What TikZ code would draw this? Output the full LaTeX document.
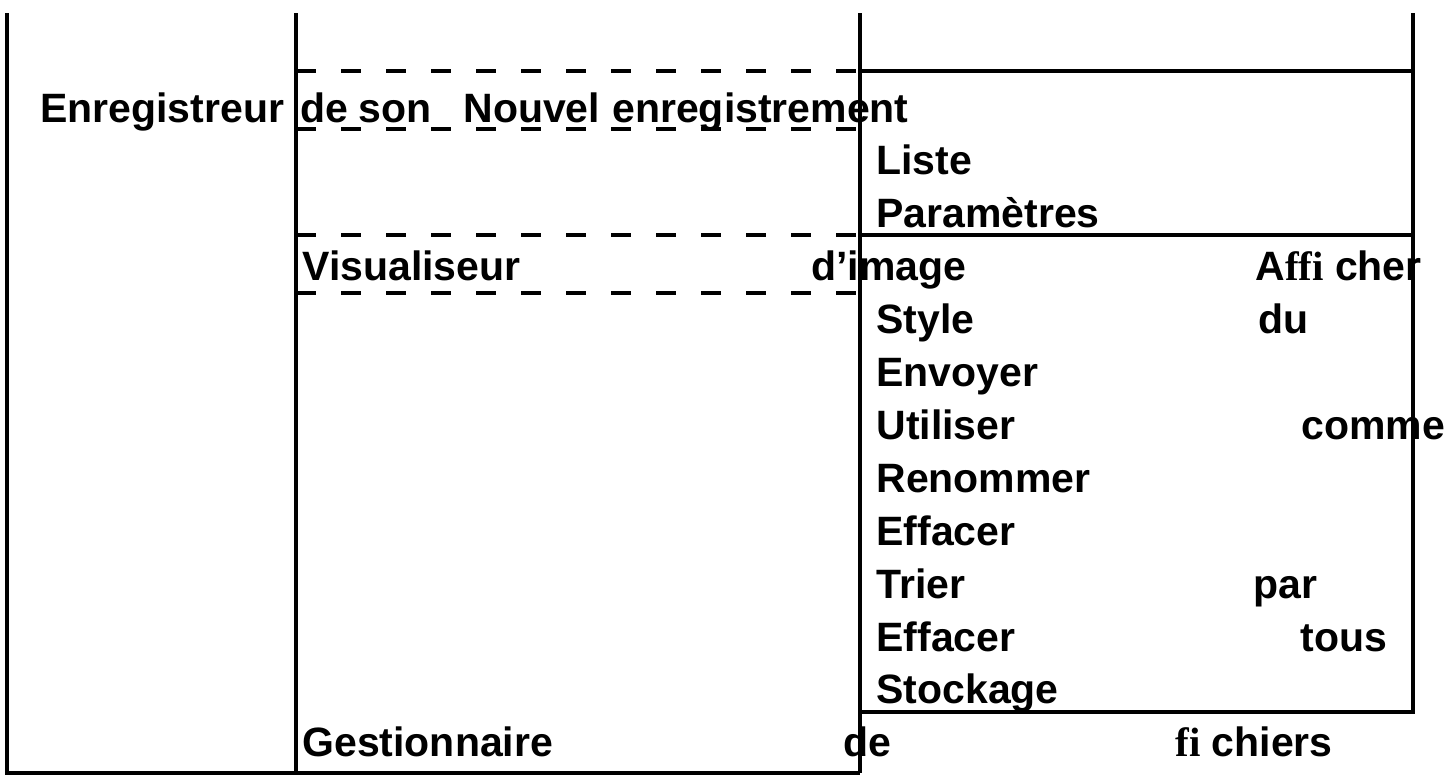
\documentclass[tikz,border=0pt]{standalone}
\usepackage{fontspec}
\setmainfont{Liberation Sans}
\newfontfamily\ligfont{Liberation Serif}
\begin{document}
\begin{tikzpicture}[x=0.5pt,y=-0.5pt,
  lbl/.style={anchor=base west, inner sep=0pt, font=\fontsize{20.5}{24}\selectfont\bfseries},
  rule/.style={line width=2pt},
  dashrule/.style={line width=2pt, dash pattern=on 10pt off 12.5pt}]
\fill[white] (0,0) rectangle (1451,782);
\useasboundingbox (0,0) rectangle (1451,782);
% frame coordinates
\coordinate (aT) at (7,13);   \coordinate (aB) at (7,773);
\coordinate (bT) at (296,13); \coordinate (bB) at (296,773);
\coordinate (cT) at (860,13); \coordinate (cB) at (860,773);
\coordinate (dT) at (1413,13); \coordinate (dB) at (1413,712);
\coordinate (cBox) at (860,712);
\coordinate (c1) at (860,71);  \coordinate (d1) at (1413,71);
\coordinate (c2) at (860,235); \coordinate (d2) at (1413,235);
% solid lines
\draw[rule] (aT) -- (aB) -- (cB);
\draw[rule] (bT) -- (bB);
\draw[rule] (cT) -- (cB);
\draw[rule] (dT) -- (dB) -- (cBox);
\draw[rule] (c1) -- (d1);
\draw[rule] (c2) -- (d2);
% dashed lines
\draw[dashrule] (296,71) -- (c1);
\draw[dashrule] (296,129) -- (860,129);
\draw[dashrule] (296,235) -- (c2);
\draw[dashrule] (296,293) -- (860,293);
% texts
\node[lbl] (t0a) at (40,122) {Enregistreur};
\node[lbl] (t0b) at (300,122) {de};
\node[lbl] (t0c) at (358,122) {son};
\node[lbl] (t0d) at (463,122) {Nouvel};
\node[lbl] (t0e) at (612,122) {enregistrement};
\node[lbl] (t1) at (876,174.9) {Liste};
\node[lbl] (t2) at (876,227.8) {Paramètres};
\node[lbl] (t3a) at (302,280.7) {Visualiseur};
\node[lbl] (t3b) at (811,280.7) {d’image};
\node[lbl] (t3c) at (1255,280.7) {A{\ligfont\bfseries ffi} cher};
\node[lbl] (t4a) at (876,333.6) {Style};
\node[lbl] (t4b) at (1258,333.6) {du};
\node[lbl] (t5) at (876,386.5) {Envoyer};
\node[lbl] (t6a) at (876,439.4) {Utiliser};
\node[lbl] (t6b) at (1301,439.4) {comme};
\node[lbl] (t7) at (876,492.3) {Renommer};
\node[lbl] (t8) at (876,545.2) {Effacer};
\node[lbl] (t9a) at (876,598.1) {Trier};
\node[lbl] (t9b) at (1253,598.1) {par};
\node[lbl] (t10a) at (876,651) {Effacer};
\node[lbl] (t10b) at (1300,651) {tous};
\node[lbl] (t11) at (876,703.9) {Stockage};
\node[lbl] (t12a) at (302,756.8) {Gestionnaire};
\node[lbl] (t12b) at (843,756.8) {de};
\node[lbl] (t12c) at (1175,756.8) {{\ligfont\bfseries fi} chiers};
\end{tikzpicture}
\end{document}
